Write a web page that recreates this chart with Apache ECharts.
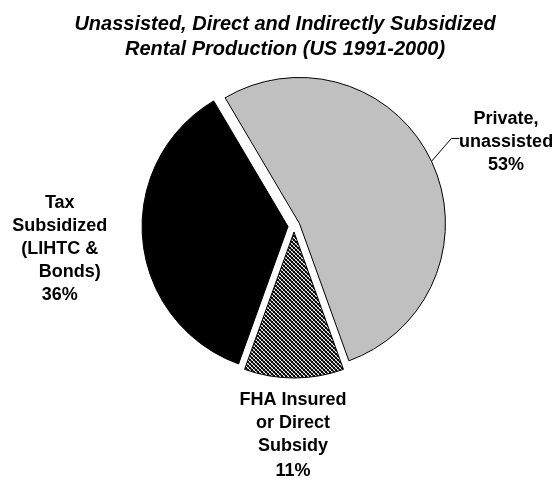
<!DOCTYPE html>
<html>
<head>
<meta charset="utf-8">
<script src="https://cdn.jsdelivr.net/npm/echarts@6/dist/echarts.min.js"></script>
<style>
    html, body { margin: 0; padding: 0; background: #fff; }
    #chart { width: 554px; height: 480px; }
</style>
</head>
<body>
<div id="chart"></div>
<script>
    // slice names and shares (%)
    const names = ['Private,\nunassisted', 'FHA Insured\nor Direct\nSubsidy', 'Tax\nSubsidized\n(LIHTC &\n    Bonds)'];
    const shares = [53, 11, 36];

    // label shifts from the default outside spot (px)
    const labelShift = [[26, -13], [-36, 44], [-33, 7]];

    // hatch tile for the FHA slice
    const tile = document.createElement('canvas');
    tile.width = 4;
    tile.height = 4;
    const tctx = tile.getContext('2d');
    tctx.fillStyle = '#fff';
    tctx.fillRect(0, 0, 4, 4);
    tctx.fillStyle = '#000';
    for (let i = 0; i < 4; i++) {
        tctx.fillRect(i, 3 - i, 1, 1);
        tctx.fillRect(i, i, 1, 1);
    }
    tctx.fillStyle = '#777';
    for (let i = 0; i < 4; i++) {
        tctx.fillRect(i, (5 - i) % 4, 1, 1);
    }

    const styles = [
        { color: '#c0c0c0', borderColor: '#000', borderWidth: 1 },
        { color: { image: tile, repeat: 'repeat' }, borderColor: '#000', borderWidth: 1 },
        { color: '#000', borderColor: '#000', borderWidth: 1 }
    ];

    const chart = echarts.init(document.getElementById('chart'));

    const option = {
        animation: false,
        title: {
            text: 'Unassisted, Direct and Indirectly Subsidized\nRental Production (US 1991-2000)',
            left: 280,
            top: 7,
            textAlign: 'center',
            textStyle: {
                fontFamily: 'Liberation Sans, Arial, sans-serif',
                fontSize: 20,
                fontWeight: 'bold',
                fontStyle: 'italic',
                lineHeight: 25,
                color: '#000'
            }
        },
        series: [{
            type: 'pie',
            center: [294, 226],
            radius: 146,
            startAngle: 120.6,
            clockwise: true,
            selectedMode: 'multiple',
            selectedOffset: 6,
            avoidLabelOverlap: false,
            emphasis: { disabled: true },
            label: {
                show: true,
                position: 'outside',
                fontFamily: 'Liberation Sans, Arial, sans-serif',
                fontSize: 18,
                fontWeight: 'bold',
                color: '#000',
                lineHeight: 23,
                align: 'center',
                formatter: (p) => {
                    const tag = p.dataIndex === 1 ? 'q' : 'p';
                    return '{n|' + p.name + '}\n{' + tag + '|' + p.value + '%}';
                },
                rich: {
                    n: { fontFamily: 'Liberation Sans, Arial, sans-serif', fontSize: 18, fontWeight: 'bold', lineHeight: 23, align: 'center' },
                    p: { fontFamily: 'Liberation Sans, Arial, sans-serif', fontSize: 18, fontWeight: 'bold', lineHeight: 23, align: 'center' },
                    q: { fontFamily: 'Liberation Sans, Arial, sans-serif', fontSize: 18, fontWeight: 'bold', lineHeight: 28, align: 'center' }
                }
            },
            labelLine: {
                show: true,
                lineStyle: { color: '#000', width: 1 }
            },
            labelLayout: (params) => {
                const s = labelShift[params.dataIndex];
                const out = { dx: s[0], dy: s[1], align: 'center', verticalAlign: 'middle' };
                if (params.dataIndex === 0) {
                    const start = params.labelLinePoints ? params.labelLinePoints[0] : [435, 163];
                    out.labelLinePoints = [start, [446, 141], [454, 141]];
                }
                return out;
            },
            data: shares.map((v, i) => ({
                name: names[i],
                value: v,
                selected: true,
                itemStyle: styles[i],
                select: { itemStyle: styles[i] },
                labelLine: { show: i === 0 }
            }))
        }]
    };

    chart.setOption(option);
    window.onresize = () => {
        chart.resize();
    };
</script>
</body>
</html>
